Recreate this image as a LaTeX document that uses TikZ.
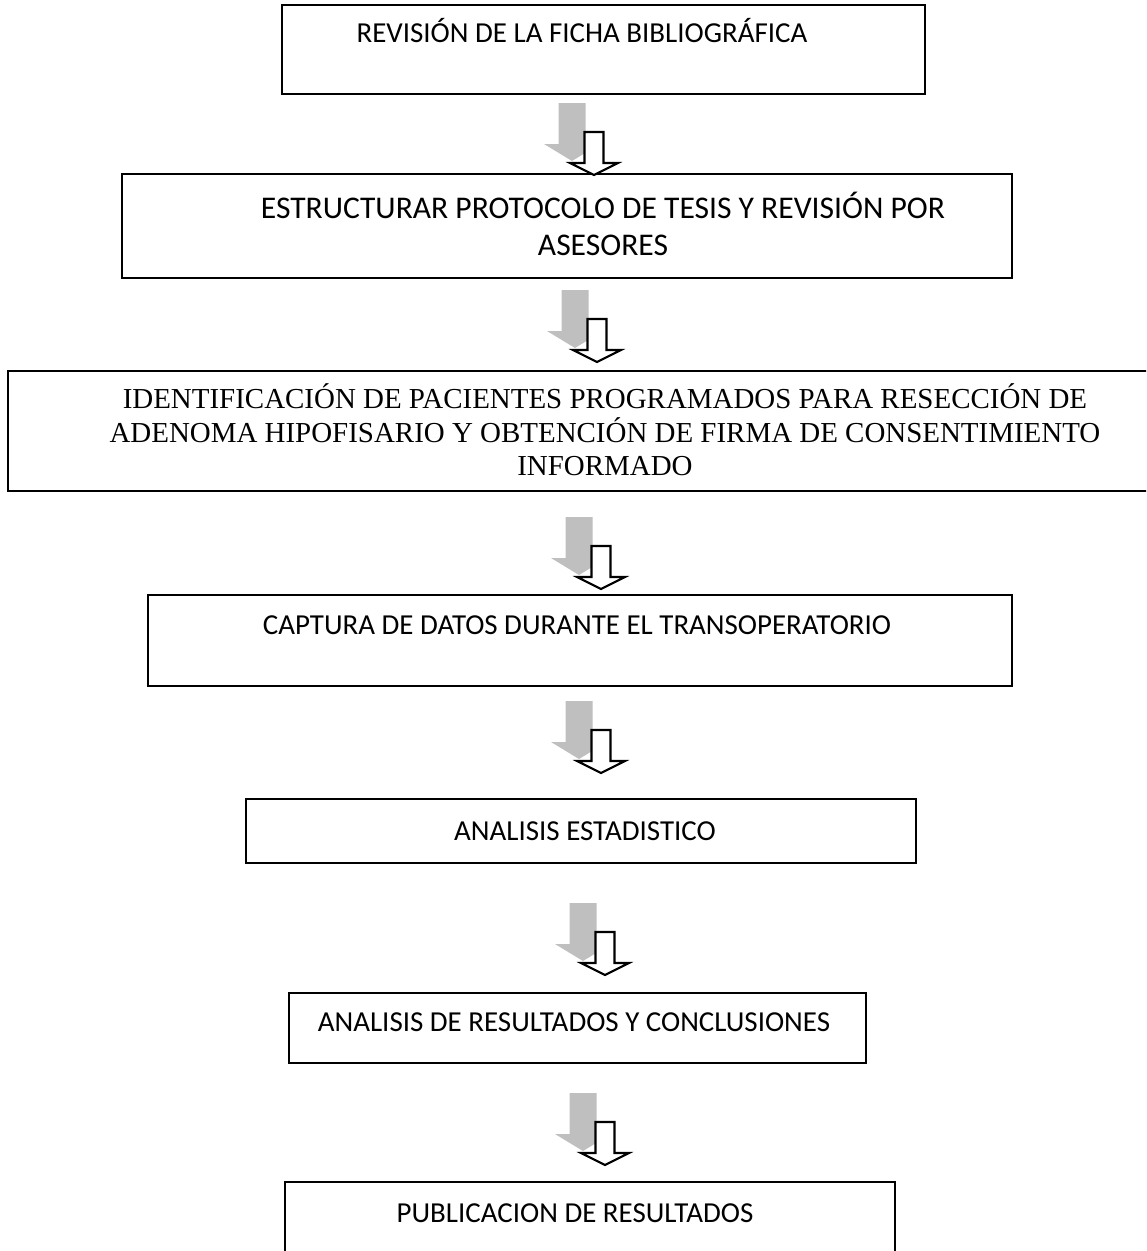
\documentclass[tikz,border=0pt]{standalone}
\usepackage{fontspec}
\setmainfont{Carlito}
\newfontfamily\timesfont{Liberation Serif}
\usetikzlibrary{fit}
\begin{document}
\begin{tikzpicture}[
  x=0.38pt, y=-0.38pt,
  box/.style = {draw, line width=0.8pt, inner sep=0pt},
  txt/.style = {inner sep=0pt, anchor=base, font=\fontsize{11}{13}\selectfont},
  bigtxt/.style = {txt, font=\fontsize{12}{14}\selectfont},
  serif/.style = {txt, font=\timesfont\fontsize{11}{13}\selectfont},
  flowarr/.pic = {
    \fill[gray!50] (-35.5,-72) -- (-8.5,-72) -- (-8.5,-31) -- (6,-31)
      -- (-22,-14) -- (-50,-31) -- (-35.5,-31) -- cycle;
    \draw[line width=0.8pt, fill=white] (-9.5,-43) -- (9.5,-43) -- (9.5,-12)
      -- (24,-12) -- (0,0) -- (-24,-12) -- (-9.5,-12) -- cycle;
  }
  ]
  \useasboundingbox (0,0) rectangle (1146,1251);
  \clip (0,0) rectangle (1146,1251);

  % boxes
  \node[box, fit={(282,5) (925,94)}] (b1) {};
  \node[box, fit={(122,174) (1012,278)}] (b2) {};
  \node[box, fit={(8,371) (1200,491)}] (b3) {};
  \node[box, fit={(148,595) (1012,686)}] (b4) {};
  \node[box, fit={(246,799) (916,863)}] (b5) {};
  \node[box, fit={(289,993) (866,1063)}] (b6) {};
  \node[box, fit={(285,1182) (895,1300)}] (b7) {};

  % texts
  \node[txt] (t1) at (582,43) {REVISIÓN DE LA FICHA BIBLIOGRÁFICA};
  \node[bigtxt] (t2a) at (603,218) {ESTRUCTURAR PROTOCOLO DE TESIS Y REVISIÓN POR};
  \node[bigtxt] (t2b) at (603,255) {ASESORES};
  \node[serif] (t3a) at (605,408) {IDENTIFICACIÓN DE PACIENTES PROGRAMADOS PARA RESECCIÓN DE};
  \node[serif] (t3b) at (605,442) {ADENOMA HIPOFISARIO Y OBTENCIÓN DE FIRMA DE CONSENTIMIENTO};
  \node[serif] (t3c) at (605,475) {INFORMADO};
  \node[txt] (t4) at (577,634) {CAPTURA DE DATOS DURANTE EL TRANSOPERATORIO};
  \node[txt] (t5) at (585,840) {ANALISIS ESTADISTICO};
  \node[txt] (t6) at (574,1031) {ANALISIS DE RESULTADOS Y CONCLUSIONES};
  \node[txt] (t7) at (575,1222) {PUBLICACION DE RESULTADOS};

  % arrows between the steps
  \foreach \ax/\ay in {594/175, 597/362, 601/589, 601/773, 605/975, 605/1165}
    \pic at (\ax,\ay) {flowarr};
\end{tikzpicture}
\end{document}
